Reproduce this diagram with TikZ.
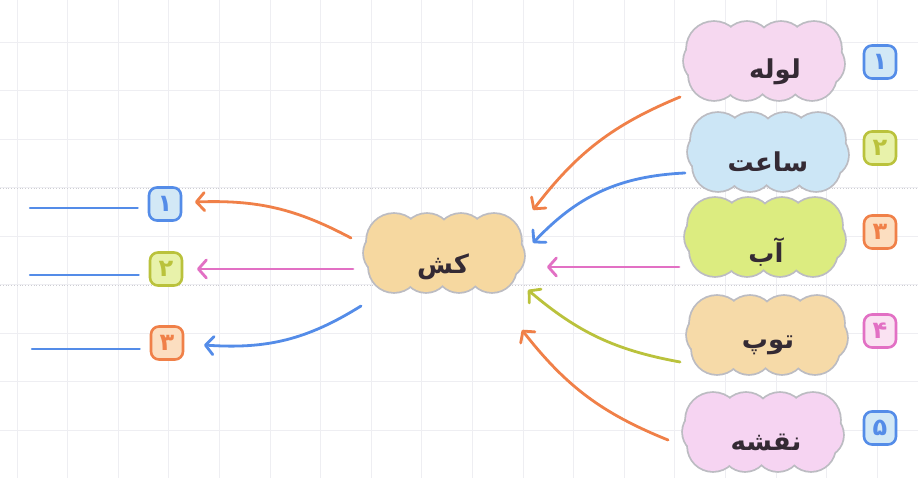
\documentclass[tikz,border=0pt]{standalone}
\usepackage{fontspec}
\TeXXeTstate=1
\newfontfamily\arabicfont[Script=Arabic]{DejaVu Sans}
\usetikzlibrary{arrows.meta,calc}
\definecolor{orangeC}{RGB}{240,128,72}
\definecolor{blueC}{RGB}{84,140,232}
\definecolor{pinkC}{RGB}{226,112,196}
\definecolor{oliveC}{RGB}{186,194,60}
\definecolor{blueF}{RGB}{210,232,246}
\definecolor{greenF}{RGB}{232,242,170}
\definecolor{orangeF}{RGB}{252,222,192}
\definecolor{pinkF}{RGB}{250,226,242}
\definecolor{cA}{RGB}{246,216,240}
\definecolor{cB}{RGB}{204,230,246}
\definecolor{cC}{RGB}{220,236,128}
\definecolor{cD}{RGB}{246,218,168}
\definecolor{cE}{RGB}{246,212,242}
\definecolor{cK}{RGB}{246,216,160}
\definecolor{cloudgray}{RGB}{188,188,194}
\definecolor{wordcol}{RGB}{52,42,52}
\definecolor{gridc}{RGB}{238,238,242}
\definecolor{gridd}{RGB}{205,205,210}
% cloud = union of puffs: grey outlines first, then the fills on top
\def\puffs{-50/12/27, -17/14/25, 17/14/25, 50/12/27, 58/-3/22, 48/-15/24, 15/-16/23, -18/-16/23, -50/-14/25, -58/0/22}
\newcommand\puffcloud[4]{%
  \begin{scope}[shift={(#2,#3)}]
    \foreach \cx/\cy/\rr in \puffs { \draw[cloudgray, line width=3.6pt] (\cx,\cy) circle (\rr); }
    \foreach \cx/\cy/\rr in \puffs { \fill[#4] (\cx,\cy) circle (\rr); }
    \fill[#4] (-64,-26) rectangle (64,26);
  \end{scope}
  \node[cloudspot] (#1) at (#2,#3) {};
}
\begin{document}
\begin{tikzpicture}[x=1pt,y=1pt,
  cloudspot/.style={inner sep=0pt, minimum width=160pt, minimum height=78pt},
  word/.style={font=\arabicfont\bfseries\fontsize{26}{30}\selectfont, text=wordcol, inner sep=0pt},
  numbox/.style={draw=#1, line width=2.6pt, rounded corners=8pt, minimum width=32pt,
    minimum height=33pt, inner sep=0pt, text=#1, font=\arabicfont\bfseries\fontsize{24}{28}\selectfont},
  conn/.style={line width=2.8pt, line cap=round, -{Straight Barb[length=8pt,width=18pt,round]}},
  blank/.style={line width=2.2pt, blueC, line cap=round},
  gridline/.style={gridc, line width=0.7pt},
]
\fill[white] (0,0) rectangle (918,478);
\useasboundingbox (0,0) rectangle (918,478);
% faint notebook grid
\foreach \i in {0,...,17} { \draw[gridline] ({17+50.6*\i},0) -- ({17+50.6*\i},478); }
\foreach \k in {0,...,8} { \draw[gridline] (0,{436-48.5*\k}) -- (918,{436-48.5*\k}); }
\draw[gridd, line width=0.8pt, dotted] (0,290) -- (918,290);
\draw[gridd, line width=0.8pt, dotted] (0,193) -- (918,193);

% clouds
\puffcloud{c1}{764}{417}{cA}
\puffcloud{c2}{768}{326}{cB}
\puffcloud{c3}{765}{241}{cC}
\puffcloud{c4}{767}{143}{cD}
\puffcloud{c5}{763}{46}{cE}
\puffcloud{ck}{444}{225}{cK}

% words
\node[word] (t1) at (775,406) {\beginR لوله\endR};
\node[word] (t2) at (768,316) {\beginR ساعت\endR};
\node[word] (t3) at (766,226) {\beginR آب\endR};
\node[word] (t4) at (768,133) {\beginR توپ\endR};
\node[word] (t5) at (766,36) {\beginR نقشه\endR};
\node[word] (tk) at (443,211) {\beginR کش\endR};

% number boxes right
\node[numbox=blueC, fill=blueF] (n1) at (880,416) {۱};
\node[numbox=oliveC, fill=greenF] (n2) at (880,330) {۲};
\node[numbox=orangeC, fill=orangeF] (n3) at (880,246) {۳};
\node[numbox=pinkC, fill=pinkF] (n4) at (880,147) {۴};
\node[numbox=blueC, fill=blueF] (n5) at (880,50) {۵};

% number boxes left
\node[numbox=blueC, fill=blueF] (b1) at (165,274) {۱};
\node[numbox=oliveC, fill=greenF] (b2) at (166,209) {۲};
\node[numbox=orangeC, fill=orangeF] (b3) at (167,135) {۳};

% answer lines
\coordinate (s1) at (30,270);
\coordinate (s2) at (30,203);
\coordinate (s3) at (32,129);
\draw[blank] (s1) -- ([xshift=-10pt]s1 -| b1.west);
\draw[blank] (s2) -- ([xshift=-10pt]s2 -| b2.west);
\draw[blank] (s3) -- ([xshift=-10pt]s3 -| b3.west);

% arrows into the center cloud
\draw[conn, orangeC] ([shift={(-84,-36)}]c1.center) to[bend right=15] ([shift={(89,43)}]ck.center);
\draw[conn, blueC] ([shift={(-83,-21)}]c2.center) to[bend right=22] ([shift={(89,10)}]ck.center);
\draw[conn, pinkC] ([shift={(-86,-30)}]c3.center) -- ([shift={(103,-14)}]ck.center);
\draw[conn, oliveC] ([shift={(-87,-27)}]c4.center) to[bend left=15] ([shift={(84,-37)}]ck.center);
\draw[conn, orangeC] ([shift={(-95,-8)}]c5.center) to[bend left=15] ([shift={(78,-77)}]ck.center);

% arrows out of the center cloud
\draw[conn, orangeC] ([shift={(-93,15)}]ck.center) to[bend right=15] ([shift={(30,2)}]b1.center);
\draw[conn, pinkC] ([shift={(-91,-16)}]ck.center) -- ([shift={(31,0)}]b2.center);
\draw[conn, blueC] ([shift={(-83,-53)}]ck.center) to[bend left=18] ([shift={(37,-2)}]b3.center);
\end{tikzpicture}
\end{document}
